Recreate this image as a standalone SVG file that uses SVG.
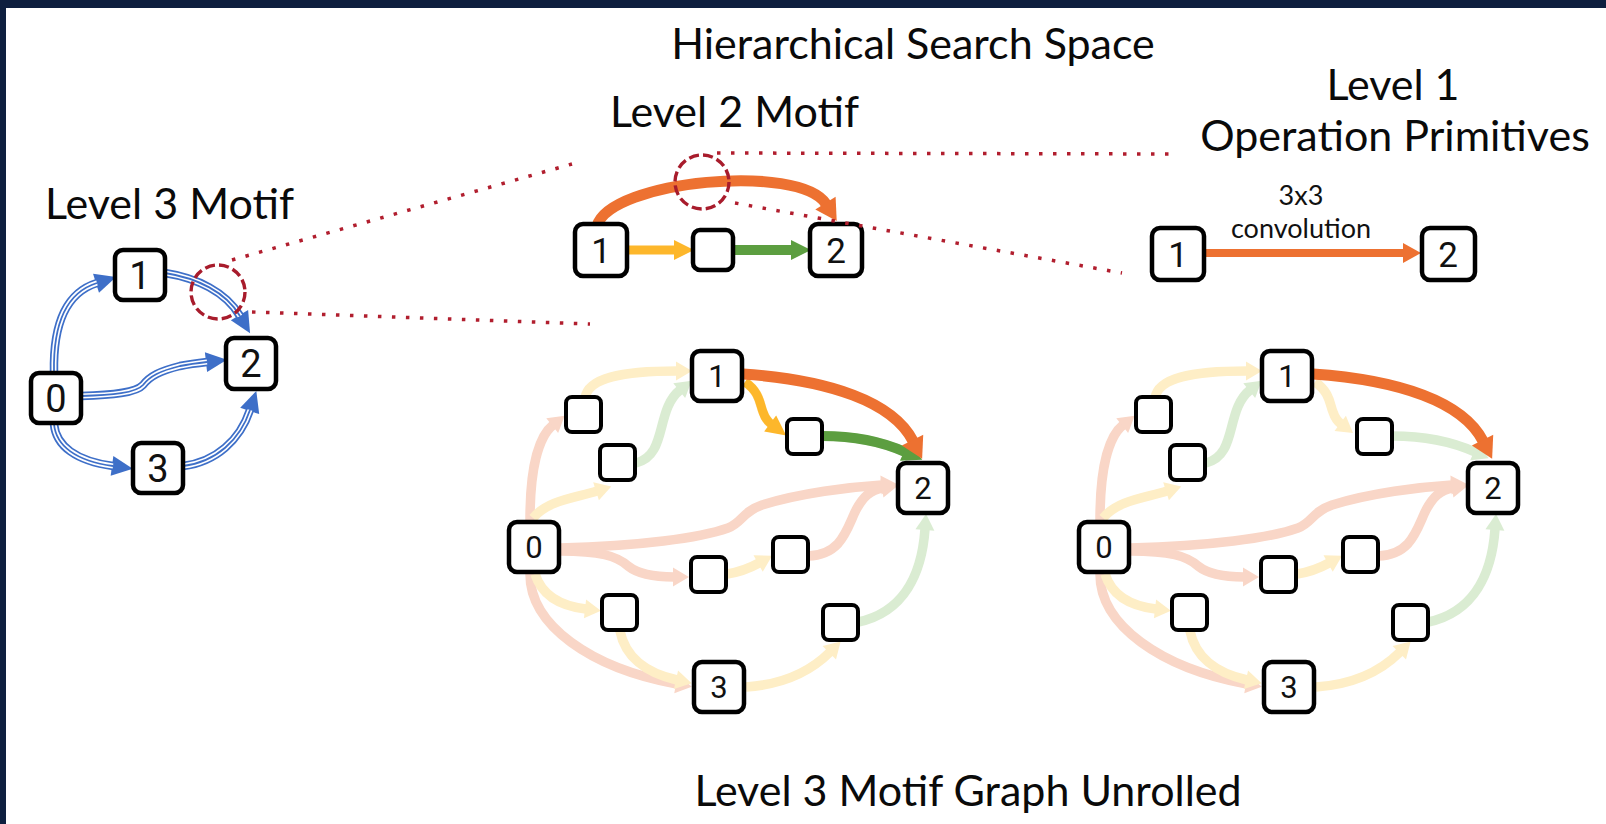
<svg xmlns="http://www.w3.org/2000/svg" xmlns:xlink="http://www.w3.org/1999/xlink" width="1606" height="824" viewBox="0 0 1606 824">
  <defs>
    <style>
      .title{font-family:Lato,"Open Sans","Liberation Sans",sans-serif;font-size:43px;fill:#0a0a0a}
      .small{font-family:Lato,"Open Sans","Liberation Sans",sans-serif;font-size:27px;fill:#111;text-anchor:middle}
      .box{fill:#fff;stroke:#000;stroke-width:4.5}
      .sbox{fill:#fff;stroke:#000;stroke-width:4}
      .num{font-family:Roboto,"Liberation Sans",sans-serif;text-anchor:middle;fill:#111}
      .e{fill:none}
      .peach{stroke:#F9D6C7;stroke-width:9.5;marker-end:url(#aPeach)}
      .cream{stroke:#FEEEC6;stroke-width:9.5;marker-end:url(#aCream)}
      .mint{stroke:#DAECD2;stroke-width:9.5;marker-end:url(#aMint)}
      .orange{stroke:#ED7131;stroke-width:11;marker-end:url(#aOrange)}
      .yellow{stroke:#FDB72B;stroke-width:9;marker-end:url(#aYellow)}
      .green{stroke:#5C9E40;stroke-width:10;marker-end:url(#aGreen)}
      .bOut{stroke:#3E6FC8;stroke-width:8.5;marker-end:url(#aBlue)}
      .bMid{stroke:#fff;stroke-width:5}
      .bIn{stroke:#3E6FC8;stroke-width:1.8}
      .dots{fill:none;stroke:#B11E2E;stroke-width:3.5;stroke-dasharray:3.5 10.5}
      .ring{fill:none;stroke:#A81C2C;stroke-width:3.4;stroke-dasharray:10 4.2}
    </style>
    <marker id="aPeach" markerUnits="userSpaceOnUse" orient="auto" viewBox="-2 -14 28 28" markerWidth="28" markerHeight="28" refX="1" refY="0"><path d="M0,-9.5 L16,0 L0,9.5z" fill="#F9D6C7"/></marker>
    <marker id="aCream" markerUnits="userSpaceOnUse" orient="auto" viewBox="-2 -14 28 28" markerWidth="28" markerHeight="28" refX="1" refY="0"><path d="M0,-9.5 L16,0 L0,9.5z" fill="#FEEEC6"/></marker>
    <marker id="aMint" markerUnits="userSpaceOnUse" orient="auto" viewBox="-2 -14 28 28" markerWidth="28" markerHeight="28" refX="1" refY="0"><path d="M0,-9.5 L16,0 L0,9.5z" fill="#DAECD2"/></marker>
    <marker id="aOrange" markerUnits="userSpaceOnUse" orient="auto" viewBox="-2 -14 28 28" markerWidth="28" markerHeight="28" refX="1" refY="0"><path d="M0,-12 L21,0 L0,12z" fill="#ED7131"/></marker>
    <marker id="aOrangeS" markerUnits="userSpaceOnUse" orient="auto" viewBox="-2 -14 28 28" markerWidth="28" markerHeight="28" refX="1" refY="0"><path d="M0,-10 L18,0 L0,10z" fill="#ED7131"/></marker>
    <marker id="aYellow" markerUnits="userSpaceOnUse" orient="auto" viewBox="-2 -14 28 28" markerWidth="28" markerHeight="28" refX="1" refY="0"><path d="M0,-10 L20,0 L0,10z" fill="#FDB72B"/></marker>
    <marker id="aGreen" markerUnits="userSpaceOnUse" orient="auto" viewBox="-2 -14 28 28" markerWidth="28" markerHeight="28" refX="1" refY="0"><path d="M0,-10 L20,0 L0,10z" fill="#5C9E40"/></marker>
    <marker id="aBlue" markerUnits="userSpaceOnUse" orient="auto" viewBox="-2 -14 28 28" markerWidth="28" markerHeight="28" refX="1" refY="0"><path d="M0,-10 L21,0 L0,10z" fill="#3E6FC8"/></marker>
  </defs>

  <!-- page with dark frame strips -->
  <rect width="1606" height="824" fill="#fff"/>
  <rect width="1606" height="8" fill="#0E1F3F"/>
  <rect width="6" height="824" fill="#0E1F3F"/>

  <!-- headings -->
  <g id="headings">
    <text class="title" x="913" y="59" text-anchor="middle">Hierarchical Search Space</text>
    <text class="title" x="45" y="219">Level 3 Motif</text>
    <text class="title" x="610" y="127">Level 2 Motif</text>
    <text class="title" x="1393" y="100" text-anchor="middle">Level 1</text>
    <text class="title" x="1395" y="151" text-anchor="middle">Operation Primitives</text>
    <text class="title" x="968" y="806" text-anchor="middle">Level 3 Motif Graph Unrolled</text>
  </g>

  <!-- connectors -->
  <g id="connectors">
    <!-- level 3 motif: triple blue lines -->
    <g id="l3-edges">
      <g><path class="e bOut" d="M54 372 C53 320 68 292 97 283"/><path class="e bMid" d="M54 372 C53 320 68 292 97 283"/><path class="e bIn" d="M54 372 C53 320 68 292 97 283"/></g>
      <g><path class="e bOut" d="M165 273 C197 278 226 292 240 316"/><path class="e bMid" d="M165 273 C197 278 226 292 240 316"/><path class="e bIn" d="M165 273 C197 278 226 292 240 316"/></g>
      <g><path class="e bOut" d="M81 396 C112 395 136 393 143 385 C150 376 160 371 180 366 C190 364 198 363 207 362"/><path class="e bMid" d="M81 396 C112 395 136 393 143 385 C150 376 160 371 180 366 C190 364 198 363 207 362"/><path class="e bIn" d="M81 396 C112 395 136 393 143 385 C150 376 160 371 180 366 C190 364 198 363 207 362"/></g>
      <g><path class="e bOut" d="M54 424 C56 446 76 461 113 466"/><path class="e bMid" d="M54 424 C56 446 76 461 113 466"/><path class="e bIn" d="M54 424 C56 446 76 461 113 466"/></g>
      <g><path class="e bOut" d="M183 466 C216 462 240 440 250 410"/><path class="e bMid" d="M183 466 C216 462 240 440 250 410"/><path class="e bIn" d="M183 466 C216 462 240 440 250 410"/></g>
    </g>

    <!-- level 2 motif -->
    <g id="l2-edges">
      <path class="e orange" d="M597 226 C610 180 800 163 826 204"/>
      <path class="e yellow" d="M627 250 L675 250"/>
      <path class="e green" d="M733 250 L792 250"/>
    </g>

    <!-- level 1 primitive -->
    <g id="l1-edges">
      <path class="e" stroke="#ED7131" stroke-width="8" marker-end="url(#aOrangeS)" d="M1204 253 L1404 253"/>
    </g>

    <!-- unrolled graph, pale edges (shared by both copies) -->
    <g id="pale">
      <path class="e peach" d="M530 520 C530 470 538 437 553 425"/>
      <path class="e peach" d="M530 574 C530 625 590 668 677 684"/>
      <path class="e peach" d="M560 551 C600 551 617 556 628 566 C638 574 655 577 674 577"/>
      <path class="e peach" d="M808 556 C842 555 847 528 856 510 C863 497 870 490 883 488"/>
      <path class="e peach" d="M560 548 C640 546 700 538 728 528 C742 523 742 512 762 505 C800 493 850 487 882 485"/>
      <path class="e cream" d="M585 398 C588 378 620 371 677 371"/>
      <path class="e cream" d="M533 518 C548 500 575 498 597 491"/>
      <path class="e cream" d="M727 574 C740 572 750 568 759 563"/>
      <path class="e cream" d="M535 574 C542 596 560 606 586 609"/>
      <path class="e cream" d="M620 631 C625 656 645 673 677 680"/>
      <path class="e cream" d="M746 687 C790 684 816 666 830 652"/>
      <path class="e cream" d="M745 382 C760 392 760 405 763 412 C765 418 767 421 771 424"/>
      <path class="e mint" d="M636 463 C668 455 655 410 680 390"/>
      <path class="e mint" d="M858 622 C905 612 922 572 925 529"/>
      <path class="e mint" d="M822 436 C860 436 885 443 905 452"/>
    </g>
    <use xlink:href="#pale" href="#pale" x="570" y="0"/>

    <!-- highlighted path in the first copy -->
    <path class="e yellow" stroke-width="8" d="M745 382 C760 392 760 405 763 412 C765 418 767 421 771 424"/>
    <path class="e green" d="M822 436 C860 436 885 443 905 452"/>
    <path class="e orange" d="M743 374 C830 380 893 402 913 441"/>
    <!-- highlighted edge in the second copy -->
    <path class="e orange" d="M1313 374 C1400 380 1463 402 1483 441"/>
  </g>

  <!-- level 3 motif nodes -->
  <g id="l3-n1"><rect class="box" x="115" y="250" width="50" height="50" rx="8"/><text class="num" x="140" y="289" font-size="38">1</text></g>
  <g id="l3-n2"><rect class="box" x="226" y="338" width="50" height="51" rx="8"/><text class="num" x="251" y="377" font-size="38">2</text></g>
  <g id="l3-n0"><rect class="box" x="31" y="373" width="50" height="50" rx="8"/><text class="num" x="56" y="412" font-size="38">0</text></g>
  <g id="l3-n3"><rect class="box" x="133" y="443" width="50" height="50" rx="8"/><text class="num" x="158" y="482" font-size="38">3</text></g>

  <!-- level 2 motif nodes -->
  <g id="l2-n1"><rect class="box" x="575" y="224" width="52" height="52" rx="8"/><text class="num" x="601" y="263" font-size="35">1</text></g>
  <g id="l2-mid"><rect class="box" x="693" y="230" width="40" height="40" rx="7"/></g>
  <g id="l2-n2"><rect class="box" x="810" y="224" width="52" height="52" rx="8"/><text class="num" x="836" y="263" font-size="35">2</text></g>

  <!-- level 1 nodes and label -->
  <g id="l1-n1"><rect class="box" x="1152" y="228" width="52" height="52" rx="8"/><text class="num" x="1178" y="267" font-size="35">1</text></g>
  <g id="l1-n2"><rect class="box" x="1422" y="228" width="53" height="52" rx="8"/><text class="num" x="1448" y="267" font-size="35">2</text></g>
  <g id="l1-label"><text class="small" x="1301" y="205">3x3</text><text class="small" x="1301" y="238">convolution</text></g>

  <!-- unrolled graph, first copy -->
  <g id="ua-n1"><rect class="box" x="692" y="351" width="50" height="50" rx="8"/><text class="num" x="717" y="387" font-size="31">1</text></g>
  <g id="ua-n2"><rect class="box" x="898" y="463" width="50" height="50" rx="8"/><text class="num" x="923" y="499" font-size="31">2</text></g>
  <g id="ua-n0"><rect class="box" x="509" y="522" width="50" height="50" rx="8"/><text class="num" x="534" y="558" font-size="31">0</text></g>
  <g id="ua-n3"><rect class="box" x="694" y="662" width="50" height="50" rx="8"/><text class="num" x="719" y="698" font-size="31">3</text></g>
  <g id="ua-a"><rect class="sbox" x="566" y="397" width="35" height="35" rx="6"/></g>
  <g id="ua-b"><rect class="sbox" x="600" y="445" width="35" height="35" rx="6"/></g>
  <g id="ua-c"><rect class="sbox" x="787" y="419" width="35" height="35" rx="6"/></g>
  <g id="ua-d"><rect class="sbox" x="691" y="557" width="35" height="35" rx="6"/></g>
  <g id="ua-e"><rect class="sbox" x="773" y="537" width="35" height="35" rx="6"/></g>
  <g id="ua-f"><rect class="sbox" x="602" y="595" width="35" height="35" rx="6"/></g>
  <g id="ua-g"><rect class="sbox" x="823" y="605" width="35" height="35" rx="6"/></g>

  <!-- unrolled graph, second copy -->
  <g id="ub-n1"><rect class="box" x="1262" y="351" width="50" height="50" rx="8"/><text class="num" x="1287" y="387" font-size="31">1</text></g>
  <g id="ub-n2"><rect class="box" x="1468" y="463" width="50" height="50" rx="8"/><text class="num" x="1493" y="499" font-size="31">2</text></g>
  <g id="ub-n0"><rect class="box" x="1079" y="522" width="50" height="50" rx="8"/><text class="num" x="1104" y="558" font-size="31">0</text></g>
  <g id="ub-n3"><rect class="box" x="1264" y="662" width="50" height="50" rx="8"/><text class="num" x="1289" y="698" font-size="31">3</text></g>
  <g id="ub-a"><rect class="sbox" x="1136" y="397" width="35" height="35" rx="6"/></g>
  <g id="ub-b"><rect class="sbox" x="1170" y="445" width="35" height="35" rx="6"/></g>
  <g id="ub-c"><rect class="sbox" x="1357" y="419" width="35" height="35" rx="6"/></g>
  <g id="ub-d"><rect class="sbox" x="1261" y="557" width="35" height="35" rx="6"/></g>
  <g id="ub-e"><rect class="sbox" x="1343" y="537" width="35" height="35" rx="6"/></g>
  <g id="ub-f"><rect class="sbox" x="1172" y="595" width="35" height="35" rx="6"/></g>
  <g id="ub-g"><rect class="sbox" x="1393" y="605" width="35" height="35" rx="6"/></g>

  <!-- zoom call-outs -->
  <g id="callouts">
    <circle class="ring" cx="218" cy="292" r="27"/>
    <path class="dots" d="M232 260 L572 164"/>
    <path class="dots" d="M252 312 L590 324"/>
    <circle class="ring" cx="702" cy="182" r="27"/>
    <path class="dots" d="M717 153 L1170 154"/>
    <path class="dots" d="M735 203 L1122 273"/>
  </g>
</svg>
